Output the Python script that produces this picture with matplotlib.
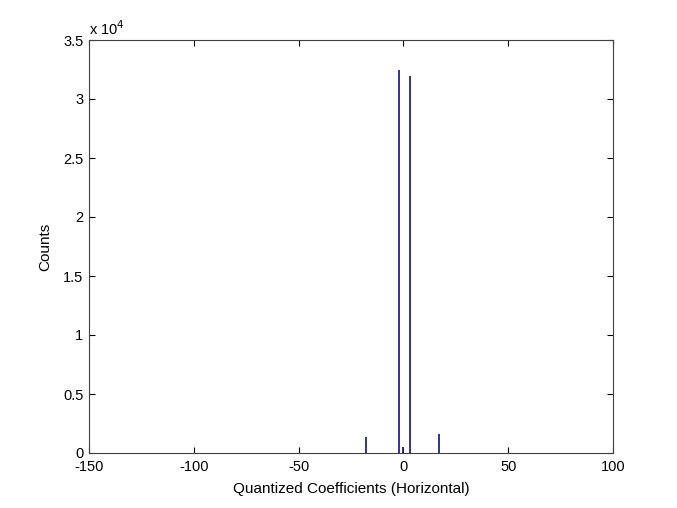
import matplotlib
matplotlib.use("Agg")
import matplotlib.pyplot as plt

plt.rcParams['font.family'] = ['Liberation Sans', 'DejaVu Sans']
plt.rcParams['axes.unicode_minus'] = False

# data
coeffs = [-18, -2, 0, 3, 17]
counts = [1350, 32450, 500, 31950, 1600]
xticks = [-150, -100, -50, 0, 50, 100]
yticks = [0, 5000, 10000, 15000, 20000, 25000, 30000, 35000]
ytick_labels = ['0', '0.5', '1', '1.5', '2', '2.5', '3', '3.5']

fig = plt.figure(figsize=(6.77, 5.08), dpi=100)
ax = fig.add_axes([89/677, 55/508, (613-89)/677, (453-40)/508])

ax.vlines(coeffs, 0, counts, colors='#22228a', linewidth=1.3)
ax.set_xlim(-150, 100)
ax.set_ylim(0, 35000)
ax.set_xticks(xticks)
ax.set_yticks(yticks)
ax.set_yticklabels(ytick_labels)
ax.tick_params(axis='both', direction='in', top=True, right=True, length=4, labelsize=10.5, colors='black')
ax.tick_params(axis='x', pad=5)
ax.tick_params(axis='y', pad=4)
for s in ax.spines.values():
    s.set_color('#404040')
    s.set_linewidth(0.8)
ax.set_xlabel('Quantized Coefficients (Horizontal)', fontsize=11, labelpad=6)
ax.set_ylabel('Counts', fontsize=11, labelpad=8)
ax.text(0.0, 1.005, 'x 10$^{4}$', transform=ax.transAxes, fontsize=10.5, ha='left', va='bottom')

fig.savefig('out.png', dpi=100)
